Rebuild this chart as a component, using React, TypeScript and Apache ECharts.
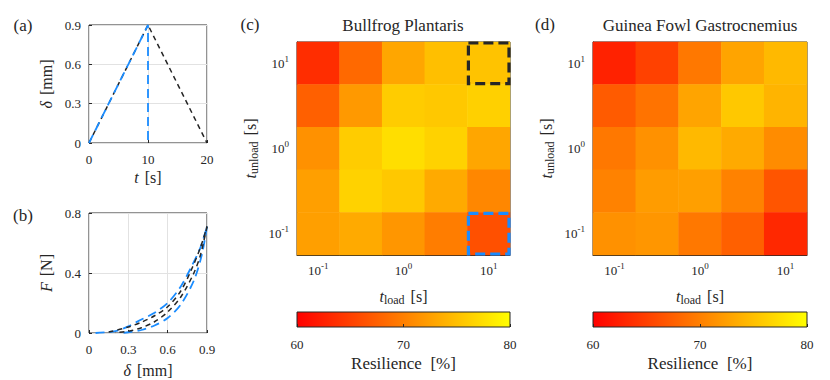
import React, { useEffect, useRef } from 'react';
import * as echarts from 'echarts';

const FONT = 'Liberation Serif';
const INK = '#262626';
const BLUE = '#1a8cff';
const GRID_LINE = '#e2e2e2';

// colormap (autumn): value 60 -> red, 80 -> yellow
const colormap = ['#ff0000', '#ffff00'];
const resilienceMin = 60;
const resilienceMax = 80;
const colorbarTicks = [60, 70, 80];

// (a) displacement protocols: [t (s), delta (mm)]
const protocolSlowUnload = [[0, 0], [10, 0.9], [20, 0]];
const protocolFastUnload = [[0, 0], [10, 0.9], [10, 0]];

// (b) force–displacement loops: [delta (mm), F (N)]
const slowLoad = [[0.15, 0.006], [0.3, 0.04], [0.4, 0.072], [0.5, 0.115], [0.6, 0.175], [0.7, 0.28], [0.78, 0.42], [0.85, 0.57], [0.9, 0.71]];
const slowUnload = [[0.9, 0.71], [0.85, 0.52], [0.8, 0.4], [0.7, 0.24], [0.6, 0.14], [0.5, 0.075], [0.4, 0.035], [0.3, 0.012], [0.2, 0.003]];
const fastLoad = [[0.05, 0], [0.2, 0.012], [0.3, 0.045], [0.4, 0.09], [0.5, 0.135], [0.6, 0.2], [0.7, 0.31], [0.78, 0.44], [0.85, 0.57], [0.9, 0.71]];
const fastUnload = [[0.9, 0.71], [0.86, 0.52], [0.8, 0.35], [0.7, 0.19], [0.6, 0.1], [0.5, 0.05], [0.4, 0.02], [0.3, 0.005], [0.25, 0]];

// (c),(d) heat maps: rows top->bottom t_unload = 10^1 ... 10^-1, cols t_load = 10^-1 ... 10^1
const tickExponents = ['-1', '-0.5', '0', '0.5', '1'];
const bullfrogResilience = [
  [63.5, 68.2, 73.0, 75.0, 75.3],
  [67.5, 72.0, 76.0, 75.7, 76.3],
  [71.4, 76.0, 77.4, 76.5, 73.0],
  [72.5, 76.5, 75.7, 73.3, 70.6],
  [72.5, 73.3, 71.8, 69.8, 66.3],
];
const guineaFowlResilience = [
  [62.7, 65.1, 69.4, 72.9, 74.5],
  [67.1, 69.0, 72.9, 75.7, 74.1],
  [69.4, 71.4, 74.5, 73.3, 71.0],
  [70.2, 72.2, 72.5, 70.2, 66.7],
  [71.4, 71.8, 69.4, 67.5, 63.1],
];
// highlighted tests in (c): [t_load index, t_unload index]
const highlightedTests = [[4, 4], [4, 0]];
const highlightColors = [INK, BLUE];

const toCells = (rows: number[][]) => {
  const out: number[][] = [];
  rows.forEach((row, r) => row.forEach((v, c) => out.push([c, rows.length - 1 - r, v])));
  return out;
};

const richSet = (size: number) => ({
  it: { fontFamily: FONT, fontStyle: 'italic', fontSize: size, color: INK, lineHeight: 20 },
  r: { fontFamily: FONT, fontStyle: 'normal', fontSize: size, color: INK, lineHeight: 20 },
  sub: { fontFamily: FONT, fontStyle: 'normal', fontSize: Math.round(size * 0.72), color: INK, lineHeight: 10, verticalAlign: 'bottom' },
  b: { fontFamily: FONT, fontStyle: 'normal', fontSize: 13, color: INK, lineHeight: 18 },
  s: { fontFamily: FONT, fontStyle: 'normal', fontSize: 9, color: INK, lineHeight: 8, verticalAlign: 'top' },
  v: { fontFamily: FONT, fontStyle: 'normal', fontSize: 13, color: INK, lineHeight: 16 },
});

const powLabel = (v: string) => (Number.isInteger(Number(v)) ? `{b|10}{s|${v}}` : '');
const numLabel = (v: number) => `{v|${String(Number(v.toFixed(2)))}}`;

const valueAxisBase = (gridIndex: number, min: number, max: number, interval: number) => ({
  type: 'value',
  gridIndex,
  min,
  max,
  interval,
  axisLine: { show: false },
  axisTick: { show: true, inside: true, length: 3, lineStyle: { color: INK } },
  axisLabel: { color: INK, fontFamily: FONT, fontSize: 13, margin: 8, formatter: numLabel, rich: richSet(13) },
  splitLine: { show: true, lineStyle: { color: GRID_LINE, width: 1 } },
});

const catAxisBase = (gridIndex: number, margin: number) => ({
  type: 'category',
  gridIndex,
  data: tickExponents,
  axisLine: { show: true, lineStyle: { color: INK } },
  axisTick: { show: true, inside: true, length: 3, alignWithLabel: true, interval: (i: number) => i % 2 === 0, lineStyle: { color: INK } },
  axisLabel: { interval: 0, formatter: powLabel, rich: richSet(13), color: INK, fontFamily: FONT, margin },
  splitLine: { show: false },
});

const colorbarAxis = (gridIndex: number) => ({
  type: 'value',
  gridIndex,
  min: resilienceMin,
  max: resilienceMax,
  interval: 10,
  axisLine: { show: false },
  axisTick: { show: true, inside: true, length: 3, lineStyle: { color: INK } },
  axisLabel: { color: INK, fontFamily: FONT, fontSize: 13, margin: 9, rich: richSet(13), formatter: (v: number) => (colorbarTicks.includes(v) ? numLabel(v) : '') },
  splitLine: { show: false },
  name: '{r|Resilience  [%]}',
  nameLocation: 'middle',
  nameGap: 26,
  nameTextStyle: { fontFamily: FONT, fontSize: 17, color: INK, rich: richSet(17) },
});

export default function App() {
  const ref = useRef<HTMLDivElement>(null);
  useEffect(() => {
    if (!ref.current) return;
    const chart = echarts.init(ref.current, undefined, { renderer: 'svg' });
    const gradient = new echarts.graphic.LinearGradient(0, 0, 1, 0, [
      { offset: 0, color: colormap[0] },
      { offset: 1, color: colormap[1] },
    ]);
    const boxGrid = { show: true, borderColor: INK, borderWidth: 1, backgroundColor: 'transparent' };
    const nameStyle = { rich: richSet(16), fontFamily: FONT };
    const option: any = {
      animation: false,
      backgroundColor: '#ffffff',
      textStyle: { fontFamily: FONT },
      grid: [
        { left: 89, top: 25, width: 118, height: 118, ...boxGrid },
        { left: 89, top: 213, width: 118, height: 120, ...boxGrid },
        { left: 297, top: 42, width: 213, height: 213, ...boxGrid },
        { left: 593, top: 42, width: 214, height: 213, ...boxGrid },
        { left: 297, top: 312, width: 213, height: 15, show: true, borderColor: INK, borderWidth: 1, backgroundColor: gradient },
        { left: 593, top: 312, width: 214, height: 15, show: true, borderColor: INK, borderWidth: 1, backgroundColor: gradient },
      ],
      xAxis: [
        { ...valueAxisBase(0, 0, 20, 10), name: '{it|t}  {r|[s]}', nameLocation: 'middle', nameGap: 24, nameTextStyle: nameStyle },
        { ...valueAxisBase(1, 0, 0.9, 0.3), name: '{it|δ}  {r|[mm]}', nameLocation: 'middle', nameGap: 27, nameTextStyle: nameStyle },
        { ...catAxisBase(2, 6), name: '{it|t}{sub|load}  {r|[s]}', nameLocation: 'middle', nameGap: 31, nameTextStyle: nameStyle },
        { ...catAxisBase(3, 6), name: '{it|t}{sub|load}  {r|[s]}', nameLocation: 'middle', nameGap: 31, nameTextStyle: nameStyle },
        colorbarAxis(4),
        colorbarAxis(5),
      ],
      yAxis: [
        { ...valueAxisBase(0, 0, 0.9, 0.3), name: '{it|δ}  {r|[mm]}', nameLocation: 'middle', nameGap: 33, nameTextStyle: nameStyle },
        { ...valueAxisBase(1, 0, 0.8, 0.4), name: '{it|F}  {r|[N]}', nameLocation: 'middle', nameGap: 33, nameTextStyle: nameStyle },
        { ...catAxisBase(2, 8), name: '{it|t}{sub|unload}  {r|[s]}', nameLocation: 'middle', nameGap: 37, nameTextStyle: nameStyle },
        { ...catAxisBase(3, 8), name: '{it|t}{sub|unload}  {r|[s]}', nameLocation: 'middle', nameGap: 37, nameTextStyle: nameStyle },
        { type: 'value', gridIndex: 4, show: false },
        { type: 'value', gridIndex: 5, show: false },
      ],
      visualMap: [
        { type: 'continuous', show: false, min: resilienceMin, max: resilienceMax, seriesIndex: [6, 7], inRange: { color: colormap } },
      ],
      series: [
        { type: 'line', xAxisIndex: 0, yAxisIndex: 0, data: protocolSlowUnload, symbol: 'none', lineStyle: { color: INK, width: 1.5, type: [5, 4] } },
        { type: 'line', xAxisIndex: 0, yAxisIndex: 0, data: protocolFastUnload, symbol: 'none', lineStyle: { color: BLUE, width: 1.8, type: [9, 5] } },
        { type: 'line', xAxisIndex: 1, yAxisIndex: 1, data: fastLoad, symbol: 'none', smooth: 0.3, lineStyle: { color: BLUE, width: 1.8, type: [9, 5] } },
        { type: 'line', xAxisIndex: 1, yAxisIndex: 1, data: fastUnload, symbol: 'none', smooth: 0.3, lineStyle: { color: BLUE, width: 1.8, type: [9, 5] } },
        { type: 'line', xAxisIndex: 1, yAxisIndex: 1, data: slowLoad, symbol: 'none', smooth: 0.3, lineStyle: { color: INK, width: 1.5, type: [5, 4] } },
        { type: 'line', xAxisIndex: 1, yAxisIndex: 1, data: slowUnload, symbol: 'none', smooth: 0.3, lineStyle: { color: INK, width: 1.5, type: [5, 4] } },
        { type: 'heatmap', xAxisIndex: 2, yAxisIndex: 2, data: toCells(bullfrogResilience), itemStyle: { borderWidth: 0 } },
        { type: 'heatmap', xAxisIndex: 3, yAxisIndex: 3, data: toCells(guineaFowlResilience), itemStyle: { borderWidth: 0 } },
        {
          type: 'custom',
          xAxisIndex: 2,
          yAxisIndex: 2,
          z: 5,
          data: highlightedTests,
          renderItem: (params: any, api: any) => {
            const c = api.coord([api.value(0), api.value(1)]);
            const s = api.size([1, 1]);
            return {
              type: 'rect',
              shape: { x: c[0] - s[0] / 2 + 1, y: c[1] - s[1] / 2 + 1, width: s[0] - 2, height: s[1] - 2 },
              style: { fill: 'none', stroke: highlightColors[params.dataIndex], lineWidth: 3.2, lineDash: [10, 5] },
            };
          },
        },
      ],
      graphic: [
        { type: 'text', x: 23, y: 25, style: { text: '(a)', font: `17px ${FONT}`, fill: INK, align: 'center', verticalAlign: 'middle' } },
        { type: 'text', x: 23, y: 215, style: { text: '(b)', font: `17px ${FONT}`, fill: INK, align: 'center', verticalAlign: 'middle' } },
        { type: 'text', x: 250, y: 24, style: { text: '(c)', font: `17px ${FONT}`, fill: INK, align: 'center', verticalAlign: 'middle' } },
        { type: 'text', x: 545, y: 24, style: { text: '(d)', font: `17px ${FONT}`, fill: INK, align: 'center', verticalAlign: 'middle' } },
        { type: 'text', x: 403, y: 25, style: { text: 'Bullfrog Plantaris', font: `17px ${FONT}`, fill: INK, align: 'center', verticalAlign: 'middle' } },
        { type: 'text', x: 700, y: 25, style: { text: 'Guinea Fowl Gastrocnemius', font: `17px ${FONT}`, fill: INK, align: 'center', verticalAlign: 'middle' } },
      ],
    };
    chart.setOption(option);
    return () => chart.dispose();
  }, []);
  return <div ref={ref} style={{ position: 'absolute', left: 0, top: 0, width: 830, height: 380 }} />;
}
